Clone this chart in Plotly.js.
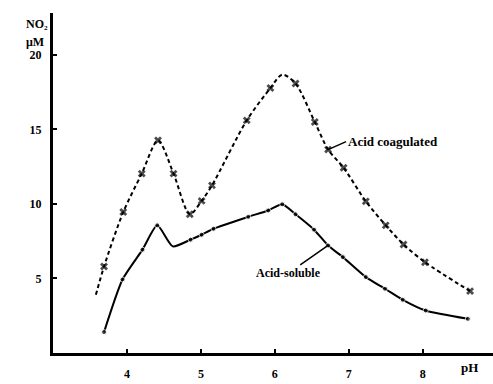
<!DOCTYPE html>
<html>
<head>
<meta charset="utf-8">
<script src="https://cdn.plot.ly/plotly-3.0.1.min.js"></script>
<style>
  html, body { margin: 0; padding: 0; background: #fff; }
  #chart { width: 493px; height: 384px; }
</style>
</head>
<body>
<div id="chart"></div>
<script>
// Acid-soluble fraction (solid line, dot markers)
const solublePH   = [3.69, 3.94, 4.21, 4.41, 4.62, 4.86, 5.01, 5.17, 5.64, 5.91, 6.10, 6.28, 6.53, 6.72, 6.92, 7.23, 7.49, 7.73, 8.04, 8.61];
const solubleNO   = [1.40, 4.93, 6.93, 8.56, 7.15, 7.60, 7.93, 8.33, 9.13, 9.56, 9.97, 9.30, 8.27, 7.21, 6.43, 5.09, 4.31, 3.57, 2.85, 2.29];
const solubleMark = [1, 1, 1, 1, 0, 1, 1, 1, 1, 1, 1, 1, 1, 1, 1, 1, 1, 1, 1, 1];

// Acid-coagulated fraction (dashed line, cross markers)
const coagPH   = [3.58, 3.69, 3.95, 4.20, 4.42, 4.63, 4.85, 5.01, 5.15, 5.62, 5.94, 6.10, 6.28, 6.54, 6.72, 6.93, 7.23, 7.50, 7.74, 8.03, 8.64];
const coagNO   = [3.90, 5.80, 9.45, 12.03, 14.26, 12.03, 9.30, 10.20, 11.24, 15.60, 17.77, 18.67, 18.07, 15.49, 13.64, 12.42, 10.17, 8.56, 7.28, 6.09, 4.15];
const coagMark = [0, 1, 1, 1, 1, 1, 1, 1, 1, 1, 1, 0, 1, 1, 1, 1, 1, 1, 1, 1, 1];

const xTicks = [4, 5, 6, 7, 8];
const yTicks = [5, 10, 15, 20];

const serif = "Liberation Serif, DejaVu Serif, serif";

const traces = [
  {
    x: coagPH, y: coagNO, type: 'scatter', mode: 'lines+markers',
    line: { color: '#000', width: 2, dash: '4px,3px', shape: 'spline', smoothing: 0.8 },
    marker: { symbol: 'x', color: '#000', line: { width: 0 },
              size: coagMark.map(m => m ? 7 : 0) },
    hoverinfo: 'skip'
  },
  {
    x: solublePH, y: solubleNO, type: 'scatter', mode: 'lines+markers',
    line: { color: '#000', width: 2, shape: 'spline', smoothing: 0.6 },
    marker: { symbol: 'circle', color: '#000', size: solubleMark.map(m => m ? 5 : 0) },
    hoverinfo: 'skip'
  }
];

const layout = {
  width: 493, height: 384,
  margin: { l: 53, r: 0, t: 13, b: 31 },
  paper_bgcolor: '#fff', plot_bgcolor: '#fff',
  showlegend: false,
  font: { family: serif, color: '#000', size: 12 },
  xaxis: {
    range: [3, 8.95], tickvals: xTicks, ticktext: xTicks.map(String),
    showgrid: false, zeroline: false, showline: true, linecolor: '#000', linewidth: 3,
    ticks: 'inside', ticklen: 4, tickwidth: 2, tickcolor: '#000',
    ticklabelstandoff: 8,
    tickfont: { family: serif, size: 12, color: '#000', weight: 'bold' }
  },
  yaxis: {
    range: [0, 22.8], tickvals: yTicks, ticktext: yTicks.map(String),
    showgrid: false, zeroline: false, showline: true, linecolor: '#000', linewidth: 3,
    ticks: 'inside', ticklen: 4, tickwidth: 2, tickcolor: '#000',
    ticklabelstandoff: 6,
    tickfont: { family: serif, size: 12, color: '#000', weight: 'bold' }
  },
  annotations: [
    { xref: 'paper', yref: 'paper', x: -0.065, y: 0.993, text: '<b>NO₂</b>', showarrow: false,
      font: { family: serif, size: 12, color: '#000' } },
    { xref: 'paper', yref: 'paper', x: -0.065, y: 0.94, text: '<b>μM</b>', showarrow: false,
      font: { family: serif, size: 12, color: '#000' } },
    { xref: 'paper', yref: 'paper', x: 0.97, y: -0.072, text: '<b>pH</b>', showarrow: false,
      font: { family: serif, size: 13, color: '#000' } },
    { x: coagPH[14], y: coagNO[14], ax: 18, ay: -8, text: '<b>Acid coagulated</b>',
      xanchor: 'left', showarrow: true, arrowhead: 0, arrowwidth: 1.5, arrowcolor: '#000', standoff: 0,
      font: { family: serif, size: 13, color: '#000' } },
    { x: solublePH[13], y: solubleNO[13], ax: -40, ay: 28, text: '<b>Acid-soluble</b>',
      showarrow: true, arrowhead: 0, arrowwidth: 1.5, arrowcolor: '#000', standoff: 0,
      font: { family: serif, size: 12, color: '#000' } }
  ]
};

Plotly.newPlot('chart', traces, layout, { staticPlot: true, displayModeBar: false });
</script>
</body>
</html>
